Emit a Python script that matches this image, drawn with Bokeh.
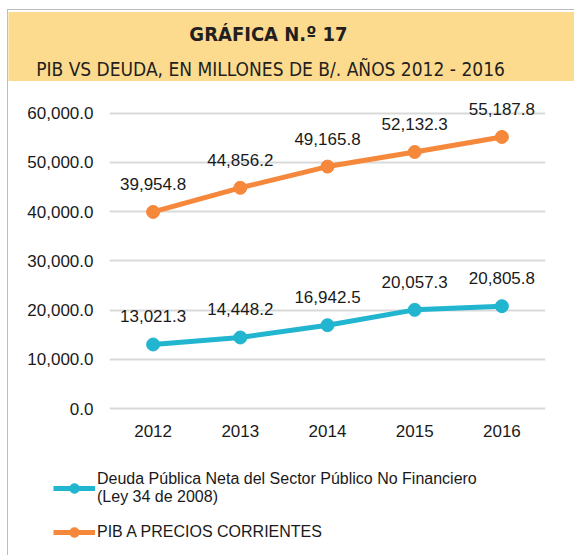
from bokeh.plotting import figure
from bokeh.models import (FactorRange, Range1d, NumeralTickFormatter, ColumnDataSource,
                          LabelSet, Legend, LegendItem, Label, FixedTicker)
from bokeh.core.properties import value
from bokeh.embed import file_html
from bokeh.resources import INLINE

years = ["2012", "2013", "2014", "2015", "2016"]
deuda = [13021.3, 14448.2, 16942.5, 20057.3, 20805.8]
pib = [39954.8, 44856.2, 49165.8, 52132.3, 55187.8]
y_ticks = [0, 10000, 20000, 30000, 40000, 50000, 60000]

title_main = "GRÁFICA N.º 17"
title_sub = "PIB VS DEUDA, EN MILLONES DE B/. AÑOS 2012 - 2016"
label_deuda = "Deuda Pública Neta del Sector Público No Financiero\n(Ley 34 de 2008)"
label_pib = "PIB A PRECIOS CORRIENTES"

TEAL = "#22B5CF"
ORANGE = "#F5883B"
FONT = "Liberation Sans"
TFONT = "DejaVu Sans Condensed"
W = 567
EDGE = "1px solid #BDBDBD"
SIDE = {"margin-left": "7px", "border-left": EDGE}


def bare(fig):
    fig.axis.visible = False
    fig.grid.visible = False
    fig.outline_line_color = None
    fig.background_fill_color = "white"
    fig.border_fill_color = "white"


# ---- title band ----
TH = 72
tf = figure(width=W, height=TH, x_range=Range1d(0, W), y_range=Range1d(0, TH), min_border=0,
            title=None, toolbar_location=None, output_backend="svg",
            styles={"margin-left": "7px", "margin-top": "9px", "border-left": EDGE, "border-top": EDGE})
bare(tf)
tf.quad(left=[0], right=[W], bottom=[0], top=[TH - 2], color="#FDDB8E")
tf.add_layout(Label(x=260, y=49, text=title_main, text_align="center", text_baseline="middle",
                    text_font=TFONT, text_font_style="bold", text_font_size="20px", text_color="#231F20"))
tf.add_layout(Label(x=262, y=14, text=title_sub, text_align="center", text_baseline="middle",
                    text_font=TFONT, text_font_size="19px", text_color="#231F20"))

# ---- chart ----
p = figure(width=W, height=368, x_range=FactorRange(*years), y_range=Range1d(-1000, 63000),
           title=None, toolbar_location=None, output_backend="svg", styles=SIDE,
           min_border_left=101, min_border_right=30, min_border_top=17, min_border_bottom=36)
p.outline_line_color = None
p.xgrid.visible = False
p.ygrid.grid_line_color = "#D9D9D9"
p.ygrid.grid_line_width = 2
p.yaxis.ticker = FixedTicker(ticks=y_ticks)
p.yaxis.formatter = NumeralTickFormatter(format="0,0.0")
for ax in (p.xaxis[0], p.yaxis[0]):
    ax.axis_line_color = None
    ax.major_tick_line_color = None
    ax.minor_tick_line_color = None
    ax.major_tick_out = 0
    ax.major_tick_in = 0
    ax.major_label_text_font = FONT
    ax.major_label_text_font_size = "17px"
    ax.major_label_text_color = "#1a1a1a"
p.yaxis.major_label_standoff = 16
p.xaxis.major_label_standoff = 11

src = ColumnDataSource(dict(x=years, deuda=deuda, pib=pib,
                            dl=[f"{v:,.1f}" for v in deuda], pl=[f"{v:,.1f}" for v in pib]))

p.line("x", "deuda", source=src, line_color=TEAL, line_width=5)
p.scatter("x", "deuda", source=src, size=13, fill_color=TEAL, line_color=TEAL)
p.line("x", "pib", source=src, line_color=ORANGE, line_width=5)
p.scatter("x", "pib", source=src, size=13, fill_color=ORANGE, line_color=ORANGE)

for col, lab in (("deuda", "dl"), ("pib", "pl")):
    p.add_layout(LabelSet(x="x", y=col, text=lab, source=src, y_offset=22, text_align="center",
                          text_baseline="alphabetic", text_font=value(FONT), text_font_size="17px",
                          text_color="#1a1a1a"))

# ---- legend (separate strip below the chart) ----
LH = 106
lf = figure(width=W, height=LH, x_range=FactorRange(*years), y_range=Range1d(-1000, 63000),
            min_border=0, title=None, toolbar_location=None, output_backend="svg", styles=SIDE)
bare(lf)
l1 = lf.line("x", "deuda", source=src, line_color=TEAL, line_width=5, visible=False)
s1 = lf.scatter("x", "deuda", source=src, fill_color=TEAL, line_color=TEAL, visible=False)
l2 = lf.line("x", "pib", source=src, line_color=ORANGE, line_width=5, visible=False)
s2 = lf.scatter("x", "pib", source=src, fill_color=ORANGE, line_color=ORANGE, visible=False)
legend = Legend(items=[LegendItem(label=label_deuda, renderers=[l1, s1]),
                       LegendItem(label=label_pib, renderers=[l2, s2])],
                location=(45, 11), padding=0, margin=0, spacing=14,
                glyph_width=42, glyph_height=24, label_standoff=2,
                label_text_font=FONT, label_text_font_size="16px", label_text_color="#1a1a1a",
                label_text_line_height=1.35,
                border_line_color=None, background_fill_alpha=0, inactive_fill_alpha=0)
lf.add_layout(legend, "center")

open("out.html", "w").write(file_html([tf, p, lf], INLINE))
